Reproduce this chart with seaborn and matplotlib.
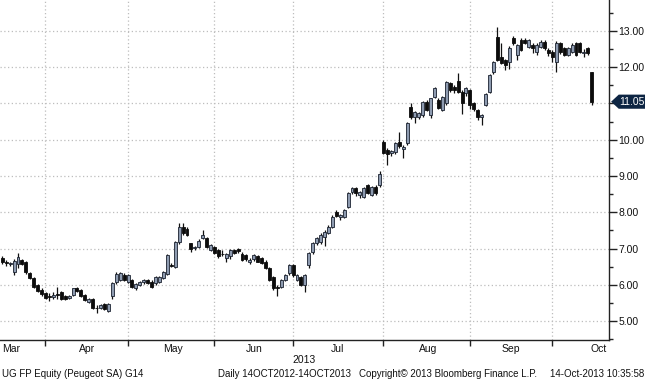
import numpy as np
import pandas as pd
import matplotlib
matplotlib.use("Agg")
import matplotlib.pyplot as plt
import seaborn as sns
from matplotlib import font_manager
from matplotlib.patches import Polygon
from matplotlib.transforms import blended_transform_factory

# Daily OHLC, UG FP Equity (Peugeot SA), mid-March to 14 Oct 2013
opens = [
    6.74, 6.62, 6.58, 6.35, 6.58, 6.68, 6.62, 6.33, 6.20, 6.00, 5.86,              # Mar
    5.76, 5.68, 5.66, 5.74, 5.80, 5.70, 5.63, 5.72, 5.90, 5.85, 5.72,              # Apr
    5.52, 5.62, 5.37, 5.36, 5.48, 5.28, 5.68, 6.08, 6.13, 6.28, 6.08,
    6.13, 5.90, 5.99, 6.08, 6.13, 6.08, 6.04, 6.08, 6.18, 6.31, 6.55,              # May
    6.50, 7.17, 7.58, 7.55, 7.14, 7.02, 7.05, 7.30, 7.28, 6.96, 7.05,
    6.96, 6.86, 6.73, 6.78, 6.96, 7.00, 6.86, 6.82, 6.62, 6.70,                    # Jun
    6.78, 6.73, 6.64, 6.45, 6.22, 5.94, 5.95, 6.14, 6.32, 6.54,
    6.14, 6.22, 5.99, 6.54, 6.91, 7.16, 7.19, 7.33, 7.42, 7.60, 8.02,              # Jul
    7.86, 7.88, 8.15, 8.57, 8.66, 8.47, 8.43, 8.75, 8.47, 8.70, 8.75,
    9.95, 9.72, 9.64, 9.67, 9.95, 9.74, 9.90, 10.91, 10.62, 10.62, 10.68,          # Aug
    11.05, 10.68, 11.19, 11.10, 10.82, 11.00, 11.56, 11.46, 11.62, 11.33, 11.28,
    11.37, 11.00, 10.82, 10.62, 10.96, 11.32, 11.86, 12.84, 12.29, 12.20, 12.15,   # Sep
    12.80, 12.34, 12.75, 12.75, 12.57, 12.61, 12.43, 12.57, 12.71, 12.48,
    12.43, 12.15, 12.66, 12.52, 12.34, 12.43, 12.66, 12.66, 12.38, 12.52, 11.88,   # Oct
]
highs = [
    6.78, 6.68, 6.64, 6.72, 6.88, 6.72, 6.65, 6.36, 6.22, 6.02, 5.90,
    5.80, 5.76, 5.80, 5.93, 5.82, 5.72, 5.72, 5.92, 5.95, 5.87, 5.74,
    5.64, 5.64, 5.44, 5.46, 5.50, 5.50, 6.08, 6.34, 6.35, 6.32, 6.30,
    6.16, 6.04, 6.10, 6.16, 6.16, 6.12, 6.24, 6.24, 6.38, 6.86, 6.60,
    7.22, 7.70, 7.70, 7.58, 7.16, 7.08, 7.25, 7.50, 7.32, 7.12, 7.08,
    7.00, 6.95, 6.88, 6.98, 7.00, 7.02, 6.90, 6.86, 6.75, 6.85,
    6.82, 6.76, 6.68, 6.48, 6.25, 6.00, 6.16, 6.30, 6.58, 6.56,
    6.30, 6.25, 6.30, 6.90, 7.18, 7.32, 7.42, 7.50, 7.64, 7.92, 8.06,
    7.96, 8.10, 8.56, 8.70, 8.70, 8.60, 8.70, 8.78, 8.72, 8.74, 9.15,
    10.00, 9.78, 9.72, 9.95, 10.21, 9.86, 10.48, 11.00, 10.80, 10.76, 11.08,
    11.10, 11.16, 11.45, 11.14, 11.22, 11.62, 11.60, 11.50, 11.83, 11.36, 11.45,
    11.40, 11.04, 10.86, 10.72, 11.30, 11.82, 12.18, 13.12, 12.66, 12.24, 12.58,
    12.86, 12.64, 12.80, 12.80, 12.78, 12.66, 12.66, 12.74, 12.74, 12.52,
    12.48, 12.72, 12.70, 12.56, 12.56, 12.66, 12.70, 12.70, 12.50, 12.56, 11.88,
]
lows = [
    6.58, 6.52, 6.52, 6.28, 6.45, 6.55, 6.30, 6.15, 5.90, 5.80, 5.70,
    5.60, 5.56, 5.62, 5.60, 5.58, 5.58, 5.60, 5.70, 5.80, 5.66, 5.55,
    5.50, 5.34, 5.22, 5.32, 5.30, 5.24, 5.62, 6.02, 6.10, 6.10, 6.05,
    5.92, 5.86, 5.96, 6.02, 6.02, 5.92, 6.00, 6.05, 6.15, 6.28, 6.48,
    6.46, 7.12, 7.38, 7.35, 6.90, 6.96, 7.02, 7.25, 7.02, 6.92, 6.85,
    6.74, 6.78, 6.62, 6.72, 6.84, 6.88, 6.66, 6.66, 6.56, 6.66,
    6.62, 6.58, 6.44, 6.10, 5.85, 5.70, 5.90, 6.10, 6.28, 6.22,
    6.10, 5.96, 5.80, 6.45, 6.86, 7.10, 7.12, 7.07, 7.40, 7.56, 7.86,
    7.78, 7.85, 8.12, 8.50, 8.45, 8.40, 8.40, 8.50, 8.44, 8.48, 8.70,
    9.60, 9.30, 9.55, 9.62, 9.78, 9.50, 9.86, 10.58, 10.45, 10.58, 10.64,
    10.78, 10.60, 11.15, 10.84, 10.78, 10.96, 11.33, 11.30, 11.30, 10.70, 11.20,
    10.85, 10.80, 10.55, 10.40, 10.92, 11.28, 11.82, 12.18, 12.08, 11.92, 11.95,
    12.60, 12.20, 12.44, 12.64, 12.52, 12.38, 12.34, 12.52, 12.48, 12.30,
    12.15, 11.88, 12.36, 12.30, 12.30, 12.38, 12.30, 12.38, 12.28, 12.34, 10.95,
]
closes = [
    6.62, 6.60, 6.61, 6.65, 6.76, 6.58, 6.36, 6.20, 5.95, 5.84, 5.74,
    5.63, 5.66, 5.72, 5.72, 5.62, 5.61, 5.70, 5.90, 5.83, 5.68, 5.58,
    5.62, 5.36, 5.35, 5.44, 5.32, 5.48, 6.04, 6.30, 6.32, 6.13, 6.27,
    5.95, 6.02, 6.07, 6.12, 6.05, 5.95, 6.22, 6.22, 6.36, 6.82, 6.52,
    7.19, 7.60, 7.42, 7.37, 7.00, 7.05, 7.22, 7.36, 7.05, 7.10, 6.88,
    6.78, 6.84, 6.86, 6.96, 6.87, 6.92, 6.68, 6.70, 6.68, 6.82,
    6.64, 6.60, 6.46, 6.13, 5.90, 5.92, 6.13, 6.27, 6.54, 6.27,
    6.26, 5.99, 6.26, 6.87, 7.14, 7.28, 7.37, 7.46, 7.60, 7.88, 7.90,
    7.92, 8.06, 8.52, 8.66, 8.52, 8.57, 8.66, 8.52, 8.70, 8.52, 9.06,
    9.63, 9.60, 9.70, 9.90, 9.82, 9.80, 10.45, 10.64, 10.77, 10.73, 11.05,
    10.82, 11.14, 11.42, 10.87, 11.19, 11.60, 11.37, 11.37, 11.33, 11.00, 11.42,
    10.95, 10.85, 10.62, 10.68, 11.25, 11.78, 12.15, 12.20, 12.11, 12.06, 12.52,
    12.66, 12.61, 12.48, 12.68, 12.75, 12.52, 12.61, 12.71, 12.52, 12.38,
    12.29, 12.66, 12.43, 12.34, 12.52, 12.61, 12.34, 12.43, 12.42, 12.38, 11.05,
]

month_names = ["Mar", "Apr", "May", "Jun", "Jul", "Aug", "Sep", "Oct"]
month_label_pos = [2.3, 21.6, 43.4, 64.0, 85.2, 108.3, 129.4, 151.8]
month_starts = [10.8, 32, 54, 74, 97, 119, 140]
price_ticks = [5, 6, 7, 8, 9, 10, 11, 12, 13]
last_price = 11.05

sns.set_theme(style="white")
installed = {f.name for f in font_manager.fontManager.ttflist}
main_font = "Liberation Sans Narrow" if "Liberation Sans Narrow" in installed else "Liberation Sans"
plt.rcParams["font.family"] = [main_font, "DejaVu Sans"]

df = pd.DataFrame({"open": opens, "high": highs, "low": lows, "close": closes})
df["day"] = np.arange(len(df))
up = df["close"] >= df["open"]

fig = plt.figure(figsize=(6.45, 3.8), dpi=100)
ax = fig.add_axes([0, 40 / 380, 609 / 645, 340 / 380])

# wicks then bodies
ax.vlines(df["day"], df["low"], df["high"], color="#111111", lw=0.9, zorder=3)
ax.bar(df["day"][up], (df["close"] - df["open"])[up], bottom=df["open"][up],
       width=0.75, color="#8e9bb0", edgecolor="#1b2230", linewidth=0.6, zorder=4)
ax.bar(df["day"][~up], (df["open"] - df["close"])[~up], bottom=df["close"][~up],
       width=0.75, color="#0c0c0c", edgecolor="#0c0c0c", linewidth=0.6, zorder=4)

ax.set_xlim(-0.585, 154.4)
ax.set_ylim(4.476, 13.855)

# price axis on the right; the last-price tag hides the 11.00 label
ax.yaxis.tick_right()
ax.set_yticks(price_ticks)
ax.set_yticklabels(["" if v == 11 else f"{v:.2f}" for v in price_ticks])
ax.set_yticks(np.arange(4.5, 14.0, 1.0), minor=True)
ax.tick_params(axis="y", which="major", direction="out", length=6, width=1,
               color="#222222", labelsize=7.5, pad=0.8, labelcolor="#111111")
ax.tick_params(axis="y", which="minor", direction="out", length=3, width=1,
               color="#222222")

# months: boundaries as ticks/grid, names centered
ax.set_xticks(month_starts)
ax.set_xticklabels([""] * len(month_starts))
ax.set_xticks(month_label_pos, minor=True)
ax.set_xticklabels(month_names, minor=True)
ax.tick_params(axis="x", which="major", direction="out", length=4, width=1,
               color="#222222", bottom=True)
ax.tick_params(axis="x", which="minor", length=0, labelsize=7.5, pad=3,
               labelcolor="#111111")

ax.grid(True, which="major", axis="both", linestyle=(0, (1, 2)),
        color="#bdbdbd", linewidth=0.9)
ax.set_axisbelow(True)

for side in ["top", "left"]:
    ax.spines[side].set_visible(False)
for side in ["right", "bottom"]:
    ax.spines[side].set_visible(True)
    ax.spines[side].set_color("#222222")
    ax.spines[side].set_linewidth(1)

# last price marker
tr = blended_transform_factory(ax.transAxes, ax.transData)
h = 0.195
tag = Polygon([(1.0035, last_price), (1.016, last_price + h), (1.06, last_price + h),
               (1.06, last_price - h), (1.016, last_price - h)],
              closed=True, transform=tr, facecolor="#0d2543", edgecolor="none",
              clip_on=False, zorder=10)
ax.add_patch(tag)
ax.text(1.038, last_price, f"{last_price:.2f}", transform=tr, ha="center",
        va="center", color="white", fontsize=7.5, zorder=11, clip_on=False)

fig.text(304 / 645, 1 - 360 / 380, "2013", ha="center", va="center", fontsize=7.5, color="#111111")
fy = 1 - 374 / 380
fs = 7
fig.text(2 / 645, fy, "UG FP Equity (Peugeot SA) G14", ha="left", va="center", fontsize=fs, color="#111111")
fig.text(218 / 645, fy, "Daily 14OCT2012-14OCT2013", ha="left", va="center", fontsize=fs, color="#111111")
fig.text(359 / 645, fy, "Copyright\u00a9 2013 Bloomberg Finance L.P.", ha="left", va="center", fontsize=fs, color="#111111")
fig.text(644 / 645, fy, "14-Oct-2013 10:35:58", ha="right", va="center", fontsize=fs, color="#111111")

fig.savefig("out.png", dpi=100, facecolor="white")
